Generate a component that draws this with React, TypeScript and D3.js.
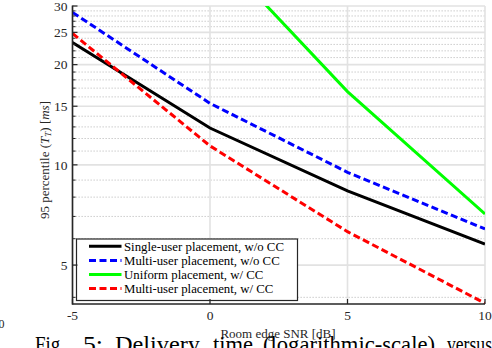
import React from "react";
import * as d3 from "d3";

// values
const snr = [-5, 0, 5, 10];
const singleNoCC = [23.3, 12.9, 8.35, 5.78];
const multiNoCC = [28.7, 15.3, 9.5, 6.42];
const multiCC = [24.8, 11.4, 6.3, 3.84];
const uniformSnr = [0, 5, 10];
const uniformCC = [45.5, 16.6, 7.12];

const xTicks = [-5, 0, 5, 10];
const yMajor = [5, 10, 15, 20, 25, 30];
const yMinor = [4, 6, 7, 8, 9, 11, 12, 13, 14, 16, 17, 18, 19, 21, 22, 23, 24, 26, 27, 28, 29];

const legendLabels = [
  "Single-user placement, w/o CC",
  "Multi-user placement, w/o CC",
  "Uniform placement, w/ CC",
  "Multi-user placement, w/ CC",
];

const W = 492;
const H = 348;
const FONT = "'Liberation Serif', 'Times New Roman', serif";
const AX = "#262626";

export default function App() {
  const x = d3.scaleLinear().domain([-5, 10]).range([72.5, 485]);
  const y = d3.scaleLog().domain([3.82, 30]).range([304, 6]);
  const [x0, x1] = x.range();
  const [y0, y1] = y.range();

  const line = d3
    .line<[number, number]>()
    .x((d) => x(d[0]))
    .y((d) => y(d[1]));

  const series = [
    { xs: snr, ys: singleNoCC, color: "#000000", dash: null },
    { xs: snr, ys: multiNoCC, color: "#0000ff", dash: "7 3.5" },
    { xs: uniformSnr, ys: uniformCC, color: "#00ff00", dash: null },
    { xs: snr, ys: multiCC, color: "#ff0000", dash: "7 3.5" },
  ];

  // caption words (justified in the paper)
  const caption = [
    { t: "Fig.", x: 35, w: 30 },
    { t: "5:", x: 83, w: 20 },
    { t: "Delivery", x: 115, w: 85 },
    { t: "time", x: 213, w: 40 },
    { t: "(logarithmic-scale)", x: 263, w: 172 },
    { t: "versus", x: 447, w: 45 },
  ];

  return (
    <svg
      width={W}
      height={H}
      style={{ position: "absolute", left: 0, top: 0, background: "#fff" }}
      fontFamily={FONT}
    >
      <defs>
        <clipPath id="plot">
          <rect x={x0} y={y1} width={x1 - x0} height={y0 - y1} />
        </clipPath>
      </defs>
      <rect width={W} height={H} fill="#fff" />

      {/* grid */}
      {yMinor.map((v) => (
        <line key={"mn" + v} x1={x0} x2={x1} y1={y(v)} y2={y(v)} stroke="#c4c4c4" strokeWidth={1} strokeDasharray="1.3 1.7" />
      ))}
      {yMajor.map((v) => (
        <line key={"mj" + v} x1={x0} x2={x1} y1={y(v)} y2={y(v)} stroke="#e2e2e2" strokeWidth={1.6} />
      ))}
      {xTicks.map((v) => (
        <line key={"gx" + v} x1={x(v)} x2={x(v)} y1={y0} y2={y1} stroke="#e2e2e2" strokeWidth={1.6} />
      ))}

      {/* data */}
      <g clipPath="url(#plot)">
        {series.map((s, i) => (
          <path
            key={i}
            d={line(s.xs.map((v, j) => [v, s.ys[j]] as [number, number])) || ""}
            fill="none"
            stroke={s.color}
            strokeWidth={3}
            strokeDasharray={s.dash || undefined}
          />
        ))}
      </g>

      {/* legend */}
      <g>
        <rect x={76.5} y={239} width={221} height={61.5} fill="#fff" stroke={AX} strokeWidth={1.2} />
        {legendLabels.map((lab, i) => {
          const ly = 246.3 + i * 14.1;
          return (
            <g key={lab}>
              <line x1={89} x2={121.5} y1={ly} y2={ly} stroke={series[i].color} strokeWidth={3} strokeDasharray={series[i].dash || undefined} />
              <text x={124} y={ly + 4.3} fontSize={12.8} fill="#000">
                {lab}
              </text>
            </g>
          );
        })}
      </g>

      {/* axes */}
      <g stroke={AX} strokeWidth={1.6}>
        <line x1={x0} x2={x0} y1={y1 - 0.5} y2={y0 + 0.8} />
        <line x1={x0} x2={x1} y1={y0} y2={y0} />
        {yMajor.map((v) => (
          <line key={"tm" + v} x1={x0} x2={x0 + 5} y1={y(v)} y2={y(v)} strokeWidth={1.2} />
        ))}
        {yMinor.map((v) => (
          <line key={"tn" + v} x1={x0} x2={x0 + 3} y1={y(v)} y2={y(v)} strokeWidth={1} />
        ))}
        {xTicks.map((v) => (
          <line key={"tx" + v} x1={x(v)} x2={x(v)} y1={y0} y2={y0 - 5} strokeWidth={1.2} />
        ))}
      </g>
      {yMajor.map((v) => (
        <text key={"ly" + v} x={67.5} y={y(v)} dy="0.35em" textAnchor="end" fontSize={13.5} fill={AX}>
          {v}
        </text>
      ))}
      {xTicks.map((v) => (
        <text key={"lx" + v} x={x(v)} y={320} textAnchor="middle" fontSize={13.5} fill={AX}>
          {v < 0 ? "-" + Math.abs(v) : v}
        </text>
      ))}

      {/* axis titles */}
      <text x={278} y={337.5} textAnchor="middle" fontSize={13} fill={AX}>
        Room edge SNR [dB]
      </text>
      <text transform="translate(48.5,160) rotate(-90)" textAnchor="middle" fontSize={13} fill={AX}>
        95 percentile (<tspan fontStyle="italic">T</tspan>
        <tspan fontStyle="italic" fontSize={9} dy={2.5}>T</tspan>
        <tspan dy={-2.5}>) [</tspan>
        <tspan fontStyle="italic">ms</tspan>]
      </text>

      {/* fragment of neighbouring figure */}
      <text x={-1.5} y={328} fontSize={12} fill={AX}>0</text>

      {/* caption */}
      {caption.map((c) => (
        <text key={c.t} x={c.x} y={352} fontSize={23} fill="#000" textLength={c.w} lengthAdjust="spacingAndGlyphs">
          {c.t}
        </text>
      ))}
    </svg>
  );
}
